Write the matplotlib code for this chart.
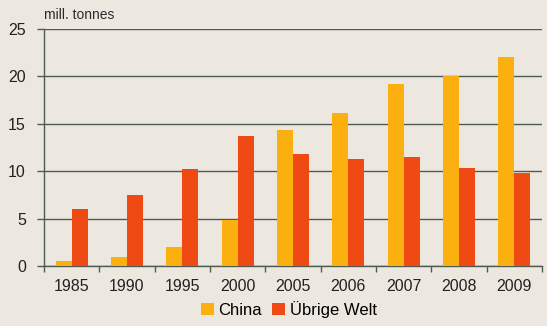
import matplotlib.pyplot as plt
import numpy as np
from matplotlib.ticker import FixedLocator

years = ["1985", "1990", "1995", "2000", "2005", "2006", "2007", "2008", "2009"]
china = [0.5, 1.0, 2.0, 4.9, 14.4, 16.1, 19.2, 20.0, 22.0]
rest_world = [6.0, 7.5, 10.2, 13.7, 11.8, 11.3, 11.5, 10.3, 9.8]
labels = ["China", "Übrige Welt"]

bg = "#ece7df"
axis_col = "#4f5a53"
plt.rcParams["font.family"] = ["Liberation Sans", "DejaVu Sans"]

fig = plt.figure(figsize=(5.47, 3.26), dpi=100, facecolor=bg)
ax = fig.add_axes([0.0804, 0.184, 0.9106, 0.727])
ax.set_facecolor(bg)

x = np.arange(len(years))
w = 0.29
ax.bar(x - w / 2, china, w, color="#fcb010", label=labels[0], zorder=3)
ax.bar(x + w / 2, rest_world, w, color="#ef4a14", label=labels[1], zorder=3)

ax.set_xlim(-0.5, len(years) - 0.5)
ax.set_ylim(0, 25)
ax.set_yticks([0, 5, 10, 15, 20, 25])
ax.yaxis.grid(True, color=axis_col, linewidth=1.0, zorder=1)
ax.set_axisbelow(True)

ax.set_xticks(x)
ax.set_xticklabels(years, fontsize=11.5, color="#222222")
ax.tick_params(axis="x", which="major", length=0, pad=9)
ax.xaxis.set_minor_locator(FixedLocator(np.arange(-0.5, len(years), 1.0)))
ax.tick_params(axis="x", which="minor", length=4, color=axis_col, width=1)
ax.tick_params(axis="y", length=5, color=axis_col, width=1, labelsize=11.5, pad=8,
               labelcolor="#222222")

for s in ["top", "right"]:
    ax.spines[s].set_visible(False)
for s in ["left", "bottom"]:
    ax.spines[s].set_color(axis_col)
    ax.spines[s].set_linewidth(1.0)

ax.text(0.0, 1.03, "mill. tonnes", transform=ax.transAxes, fontsize=10,
        ha="left", va="bottom", color="#2a2a2a")

fig.legend(loc="lower center", bbox_to_anchor=(0.528, -0.02), ncol=2, frameon=False,
           fontsize=12, handlelength=0.75, handleheight=0.75, handletextpad=0.3,
           columnspacing=0.6)

fig.savefig("out.png", dpi=100, facecolor=bg)
